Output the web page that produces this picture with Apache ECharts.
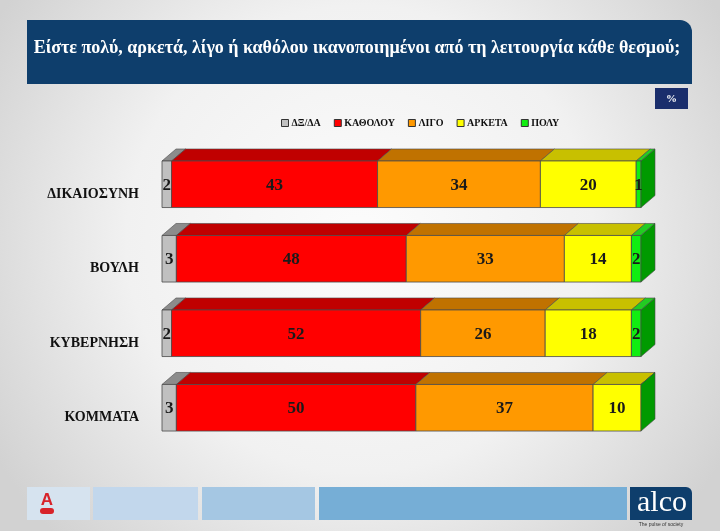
<!DOCTYPE html>
<html>
<head>
<meta charset="utf-8">
<script src="https://cdn.jsdelivr.net/npm/echarts@6/dist/echarts.min.js"></script>
<style>html,body{margin:0;padding:0;}#main{width:720px;height:531px;}</style>
</head>
<body>
<div id="main"></div>
<script>
const titleText = 'Είστε πολύ, αρκετά, λίγο ή καθόλου ικανοποιημένοι από τη λειτουργία κάθε θεσμού;';
const categories = ['ΔΙΚΑΙΟΣΥΝΗ', 'ΒΟΥΛΗ', 'ΚΥΒΕΡΝΗΣΗ', 'ΚΟΜΜΑΤΑ'];
const seriesNames = ['ΔΞ/ΔΑ', 'ΚΑΘΟΛΟΥ', 'ΛΙΓΟ', 'ΑΡΚΕΤΑ', 'ΠΟΛΥ'];
const dxda = [2, 3, 2, 3];
const katholou = [43, 48, 52, 50];
const ligo = [34, 33, 26, 37];
const arketa = [20, 14, 18, 10];
const poly = [1, 2, 2, 0];

const allValues = [dxda, katholou, ligo, arketa, poly];
const frontColors = ['#c0c0c0', '#ff0000', '#ff9900', '#ffff00', '#11ee11'];
const topColors = ['#8c8c8c', '#c00000', '#c07200', '#c8c000', '#22cc22'];
const sideColor = '#009a00';
const DX = 14, DY = 12;
const SERIF = '"Liberation Serif", "DejaVu Serif", serif';

// build stacked data [start, catIndex, end, value]
const cum = categories.map(() => 0);
const seriesData = allValues.map(vals => vals.map((v, i) => {
  const s = cum[i];
  cum[i] += v;
  return [s, i, cum[i], v];
}));

function makeRender(si) {
  return function (params, api) {
    const start = api.value(0), cat = api.value(1), end = api.value(2), val = api.value(3);
    const p0 = api.coord([start, cat]);
    const p1 = api.coord([end, cat]);
    const h = api.size([0, 1])[1] * 0.625;
    const x0 = p0[0], x1 = p1[0];
    const yT = p0[1] - h / 2, yB = p0[1] + h / 2;
    const stroke = '#4a4a4a';
    const children = [];
    children.push({
      type: 'polygon',
      shape: { points: [[x0, yT], [x1, yT], [x1 + DX, yT - DY], [x0 + DX, yT - DY]] },
      style: { fill: topColors[si], stroke: stroke, lineWidth: 0.6 }
    });
    if (x1 - x0 > 0) {
      children.push({
        type: 'rect',
        shape: { x: x0, y: yT, width: x1 - x0, height: h },
        style: { fill: frontColors[si], stroke: stroke, lineWidth: 0.8 }
      });
    }
    if (si === allValues.length - 1) {
      children.push({
        type: 'polygon',
        shape: { points: [[x1, yT], [x1 + DX, yT - DY], [x1 + DX, yB - DY], [x1, yB]] },
        style: { fill: sideColor, stroke: stroke, lineWidth: 0.6 }
      });
    }
    if (val > 0) {
      children.push({
        type: 'text',
        x: (x0 + x1) / 2,
        y: p0[1] + 1,
        style: {
          text: String(val),
          align: 'center',
          verticalAlign: 'middle',
          font: 'bold 17px ' + SERIF,
          fill: '#1a1a1a'
        },
        z2: 10
      });
    }
    return { type: 'group', children: children };
  };
}

const chart = echarts.init(document.getElementById('main'), null, { renderer: 'canvas' });

const graphics = [
  { type: 'rect', z: -100, silent: true, shape: { x: 0, y: 0, width: 720, height: 531 },
    style: { fill: new echarts.graphic.RadialGradient(0.5, 0.45, 0.8, [
      { offset: 0, color: '#fcfcfc' }, { offset: 0.55, color: '#f1f1f1' }, { offset: 1, color: '#d2d2d2' }]) } },
  { type: 'rect', z: -50, shape: { x: 27, y: 20, width: 665, height: 64, r: [0, 12, 0, 0] },
    style: { fill: '#0e3e6c' } },
  { type: 'text', z: -40, x: 357, y: 48,
    style: { text: titleText, align: 'center', verticalAlign: 'middle', font: 'bold 18px ' + SERIF, fill: '#ffffff' } },
  { type: 'rect', z: -50, shape: { x: 655, y: 88, width: 33, height: 21 }, style: { fill: '#1a2e6c' } },
  { type: 'text', z: -40, x: 671.5, y: 99,
    style: { text: '%', align: 'center', verticalAlign: 'middle', font: 'bold 11px ' + SERIF, fill: '#ffffff' } },
  { type: 'rect', z: -50, shape: { x: 27, y: 487, width: 63, height: 33 }, style: { fill: '#d6e3ef' } },
  { type: 'rect', z: -50, shape: { x: 93, y: 487, width: 105, height: 33 }, style: { fill: '#c2d7ec' } },
  { type: 'rect', z: -50, shape: { x: 202, y: 487, width: 113, height: 33 }, style: { fill: '#a5c7e3' } },
  { type: 'rect', z: -50, shape: { x: 319, y: 487, width: 308, height: 33 }, style: { fill: '#76aed6' } },
  { type: 'rect', z: -50, shape: { x: 630, y: 487, width: 62, height: 33, r: [0, 6, 0, 0] }, style: { fill: '#0e3e6c' } },
  { type: 'text', z: -40, x: 662, y: 503,
    style: { text: 'alco', align: 'center', verticalAlign: 'middle', font: '30px ' + SERIF, fill: '#ffffff' } },
  { type: 'text', z: -40, x: 661, y: 525,
    style: { text: 'The pulse of society', align: 'center', verticalAlign: 'middle', font: '5px "Liberation Sans", sans-serif', fill: '#333333' } },
  { type: 'text', z: -40, x: 47, y: 500,
    style: { text: 'A', align: 'center', verticalAlign: 'middle', font: 'bold 17px "Liberation Sans", sans-serif', fill: '#d8232a' } },
  { type: 'rect', z: -40, shape: { x: 40, y: 508, width: 14, height: 6, r: 3 }, style: { fill: '#d8232a' } }
];

const series = seriesNames.map((name, si) => ({
  name: name,
  type: 'custom',
  renderItem: makeRender(si),
  itemStyle: { color: frontColors[si] },
  encode: { x: [0, 2], y: 1 },
  data: seriesData[si],
  z: 2
}));

chart.setOption({
  animation: false,
  graphic: graphics,
  legend: {
    data: seriesNames,
    left: 276,
    top: 113,
    icon: 'rect',
    itemWidth: 7,
    itemHeight: 7,
    itemGap: 13,
    itemStyle: { borderColor: '#333333', borderWidth: 1 },
    textStyle: { fontFamily: SERIF, fontWeight: 'bold', fontSize: 10, color: '#111111', padding: [0, 0, 0, -2] }
  },
  grid: { left: 162, right: 79, top: 147, bottom: 86, containLabel: false },
  xAxis: { type: 'value', min: 0, max: 100, show: false },
  yAxis: {
    type: 'category',
    data: categories,
    inverse: true,
    axisLine: { show: false },
    axisTick: { show: false },
    splitLine: { show: false },
    axisLabel: {
      margin: 23,
      verticalAlign: 'top',
      padding: [3, 0, 0, 0],
      fontFamily: SERIF,
      fontWeight: 'bold',
      fontSize: 14,
      color: '#111111'
    }
  },
  series: series
});
</script>
</body>
</html>
